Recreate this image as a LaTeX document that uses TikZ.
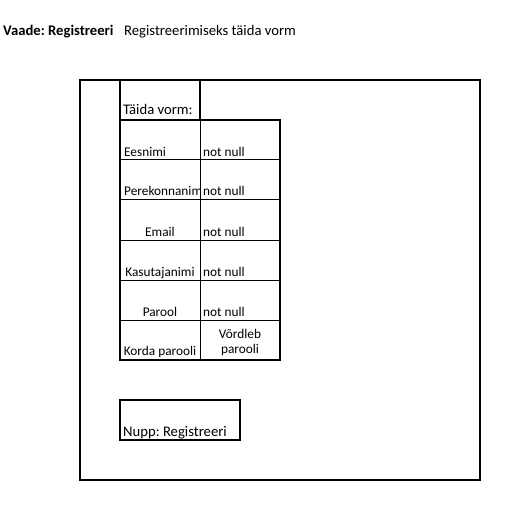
\documentclass[tikz,border=0pt]{standalone}
\usepackage{fontspec}
\setmainfont{Carlito}
\frenchspacing
\begin{document}
\begin{tikzpicture}[x=1pt,y=-1pt,
  thickline/.style={line width=2pt},
  thinline/.style={line width=1pt},
  big/.style={font=\fontsize{14.67}{17}\selectfont, inner sep=0pt},
  small/.style={font=\fontsize{13.3}{15}\selectfont, inner sep=0pt},
  lft/.style={anchor=base west},
  ctr/.style={anchor=base}]
\useasboundingbox[fill=white] (0,0) rectangle (521,521);
% title
\node[big,lft,font=\fontsize{14.67}{17}\selectfont\bfseries] (title) at (3,36) {Vaade: Registreeri};
\node[big,lft] (subtitle) at (124,36) {Registreerimiseks täida vorm};
% header cell
\node[big,lft] (header) at (123,115) {Täida vorm:};
% table texts
\node[small,lft] (l1) at (124,157) {Eesnimi};
\begin{scope}
  \clip (120,160) rectangle (200,200);
  \node[small,lft] (l2) at (124,196) {Perekonnanimi};
\end{scope}
\node[small,ctr] (l3) at (160,236) {Email};
\node[small,ctr] (l4) at (160,276) {Kasutajanimi};
\node[small,ctr] (l5) at (160,316) {Parool};
\node[small,ctr] (l6) at (160,355) {Korda parooli};
\node[small,lft] (r1) at (203,157) {not null};
\node[small,lft] (r2) at (203,196) {not null};
\node[small,lft] (r3) at (203,236) {not null};
\node[small,lft] (r4) at (203,276) {not null};
\node[small,lft] (r5) at (203,316) {not null};
\node[small,ctr] (r6a) at (240,338) {Võrdleb};
\node[small,ctr] (r6b) at (240,353) {parooli};
% button text
\node[big,lft] (button) at (123,436) {Nupp: Registreeri};
% lines
\draw[thinline] (200,120) -- (200,360);
\foreach \y in {160,200,240,280,320} \draw[thinline] (120,\y) -- (280,\y);
\draw[thickline] (80,80) rectangle (480,480);
\draw[thickline] (120,80) rectangle (200,120);
\draw[thickline] (120,120) rectangle (280,360);
\draw[thickline] (120,400) rectangle (240,440);
\end{tikzpicture}
\end{document}
